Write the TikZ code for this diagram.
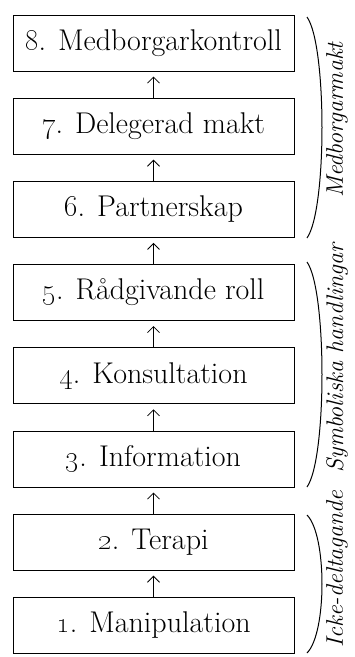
\documentclass[tikz,border=0pt]{standalone}
\usetikzlibrary{arrows.meta}
\tikzset{
  rung/.style={draw,line width=1pt,minimum width=281pt,minimum height=56pt,inner sep=0pt,
    font=\fontsize{30}{34}\selectfont},
  grouplabel/.style={rotate=90,font=\fontsize{24}{28}\selectfont\itshape},
}
\begin{document}
\begin{tikzpicture}[x=1pt,y=-1pt,>={Straight Barb[width=12pt,length=6pt]}]
    \useasboundingbox (0,0) rectangle (355,657);
    % the ladder, bottom to top
    \node[rung] (b1) at (153.5,625.4) {\oldstylenums{1}. Manipulation};
    \node[rung] (b2) at (153.5,542.2) {\oldstylenums{2}. Terapi};
    \node[rung] (b3) at (153.5,459.0) {\oldstylenums{3}. Information};
    \node[rung] (b4) at (153.5,375.8) {\oldstylenums{4}. Konsultation};
    \node[rung] (b5) at (153.5,292.6) {\oldstylenums{5}. Rådgivande roll};
    \node[rung] (b6) at (153.5,209.4) {\oldstylenums{6}. Partnerskap};
    \node[rung] (b7) at (153.5,126.2) {\oldstylenums{7}. Delegerad makt};
    \node[rung] (b8) at (153.5,43.0) {\oldstylenums{8}. Medborgarkontroll};
    \foreach \i/\j in {1/2,2/3,3/4,4/5,5/6,6/7,7/8}
        \draw[->,line width=0.8pt,shorten >=5pt] (b\i.north) -- (b\j.south);
    % groups
    \draw[line width=1pt] (307,17) .. controls (327,45) and (327,210) .. (307,238);
    \draw[line width=1pt] (307,262) .. controls (327,290) and (327,459) .. (307,487);
    \draw[line width=1pt] (307,515) .. controls (327,535) and (327,633) .. (307,653);
    \node[grouplabel] (g3) at (337,120) {Medborgarmakt};
    \node[grouplabel] (g2) at (337,358) {Symboliska handlingar};
    \node[grouplabel] (g1) at (337,569) {Icke-deltagande};
\end{tikzpicture}
\end{document}
